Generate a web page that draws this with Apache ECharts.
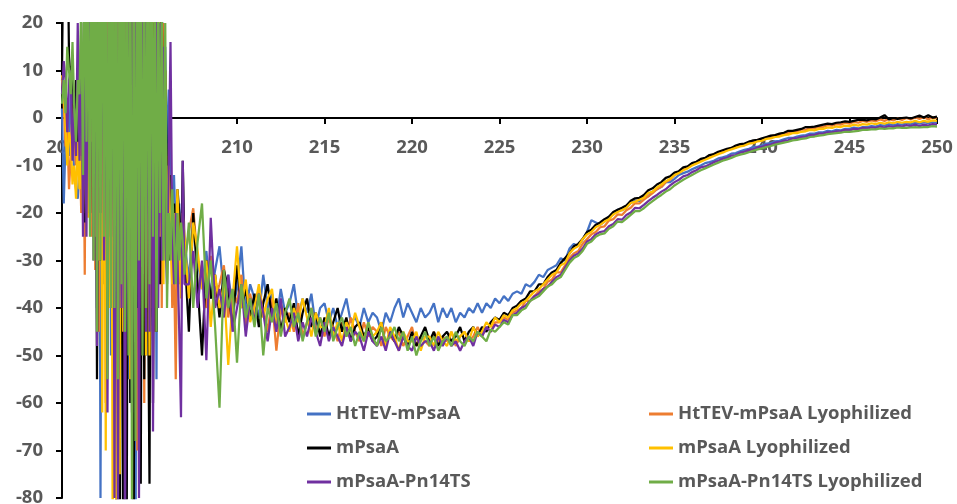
<!DOCTYPE html>
<html><head><meta charset="utf-8">
<script src="https://cdn.jsdelivr.net/npm/echarts@6/dist/echarts.min.js"></script>
<style>html,body{margin:0;padding:0;background:#fff}#c{width:957px;height:504px}</style>
</head><body><div id="c"></div>
<script>
// Wavelength grids (nm): dense part 200.0 → 207.0 step 0.1, main part 207.25 → 250 step 0.25
const denseStart = 200, denseStep = 0.1;
const mainStart = 207.25, mainStep = 0.25;
const xTicks = [200,205,210,215,220,225,230,235,240,245,250];
const yTicks = [-80,-70,-60,-50,-40,-30,-20,-10,0,10,20];
const seriesNames = ["HtTEV-mPsaA","HtTEV-mPsaA Lyophilized","mPsaA","mPsaA Lyophilized","mPsaA-Pn14TS","mPsaA-Pn14TS Lyophilized"];
const seriesColors = ["#4472C4","#ED7D31","#000000","#FFC000","#7030A0","#70AD47"];

// ---- 200.0 – 207.0 nm (0.1 nm) ----
const htTEVDense = [
2,-18,-5,4,-8,6,-3,-12,-15,-17,
-10,-4,5,12,25,40,-20,35,-10,50,
-40,45,-80,30,-35,60,-25,40,-50,55,
-30,45,-60,35,-45,50,-20,65,-55,40,
-35,55,-95,30,-40,60,-30,45,-50,35,
-25,50,-45,30,-55,40,-20,35,-30,15,
-10,6,-15,-20,-12,-25,-30,-18,-28,-22,
-26];
const htTEVLyoDense = [
8,3,-6,-2,-15,-8,3,-5,-10,10,
-5,-20,15,-33,30,-10,45,-25,60,-32,
40,-45,55,-30,35,-60,45,-20,50,-40,
30,-65,50,-35,60,-20,40,-45,55,-30,
45,-50,35,-70,50,-25,40,-60,30,-35,
55,-25,40,-45,30,-35,25,-40,20,-15,
-8,-25,-15,-40,-30,-55,-20,-35,-28,-22,
-30];
const mPsaADense = [
10,45,45,45,13,8,12,-5,8,-8,
5,-3,9,-22,-8,50,-20,45,20,55,
-55,50,-30,60,-20,45,-40,55,-25,40,
60,-90,35,-95,45,-100,30,-85,55,-60,
40,-85,55,-40,45,-77,35,-55,50,-30,
-77,35,-60,20,-45,30,-35,25,-20,10,
-12,-30,-12,-22,-18,-25,-15,-20,-35,-9,
-28];
const mPsaALyoDense = [
9,5,-2,-10,-3,-5,-14,-10,-17,-5,
-15,-8,-20,5,30,-21,40,-5,45,-25,
45,-30,40,-62,35,-70,50,-40,55,-95,
55,-90,40,-75,60,-45,50,-30,40,-55,
-45,50,-30,60,-40,45,-25,55,-50,30,
-50,30,-40,15,-30,40,-25,20,-35,10,
-30,-10,-25,-35,-20,-25,-15,-28,-38,-20,
-20];
const pn14TSDense = [
5,12,8,-3,8,10,-9,2,-8,20,
-9,20,-25,10,-25,45,-20,55,-30,40,
-48,55,-20,45,-30,50,-62,40,-25,60,
-80,45,-85,35,-40,50,-95,40,-30,45,
-62,50,-35,45,-80,40,-30,55,-45,35,
-45,40,-66,9,30,-40,20,-30,15,-25,
-35,-10,16,-25,-35,-20,-30,-45,-63,-9,
-35];
const pn14TSLyoDense = [
3,8,1,15,10,5,16,2,-5,8,
5,25,-12,40,-5,30,-25,50,-30,60,
-45,50,-30,60,-25,45,-55,50,-40,55,
-40,45,-55,50,-35,60,-45,40,-50,55,
-85,40,-68,55,-30,45,-50,35,-40,50,
-35,45,-25,35,-45,30,-20,25,-30,20,
-40,-20,-30,-15,-25,-35,-20,-30,-22,-26,
-33];

// ---- 207.25 – 250 nm (0.25 nm) ----
const htTEV = [
-34,-22,-30, -36,-28,-38,-32, -27,-37,-33,-40, -36,-27,-41,-35,
-38,-42,-33,-40, -37,-43,-36,-41, -39,-35,-42,-38, -41,-37,-44,-40, -39,-43,-40,-44,
-41,-38,-43,-42, -44,-40,-43,-41, -42,-45,-41,-43, -40,-38,-42,-39, -41,-43,-40,-42,
-41,-39,-43,-40, -42,-40,-43,-41, -42,-40,-41,-39, -41,-39,-40,-38, -39,-37.5,-38.5,-37,
-36.5,-37,-35,-35.5, -34.5,-33,-33.5,-32, -31.5,-31,-29.5,-30, -27.5,-26.5,-27,-25.5,
-24,-21.5,-22,-22.5, -21.8,-20.8,-20.3,-19.3, -19.4,-18.9,-17.9,-17.4, -17.5,-16.5,-16.5,-15.5,
-15,-14.5,-13.5,-13.5, -12.8,-12,-11.6,-11.3, -10.8,-10.4,-10,-9.5, -9.3,-9,-8.5,-8.3,
-8,-7.5,-7.4,-7, -6.7,-6.5,-6.1,-6, -5.8,-5.4,-5.3,-4.9, -4.8,-4.5,-4.2,-4.2,
-3.9,-3.7,-3.6,-3.3, -3.3,-3,-3,-2.7, -2.8,-2.5,-2.6,-2.3, -2.3,-2,-2.2,-1.9,
-1.9,-1.7,-1.8,-1.5, -1.6,-1.3,-1.5,-1.3, -1.4,-1.1,-1.3,-1, -1.2,-0.9,-1.1,-0.9, -1
];
const htTEVLyo = [
-24,-19,-30, -33,-40,-29,-38, -35,-31,-42,-36, -39,-33,-44,-37,
-42,-36,-40,-45, -38,-49,-40,-43, -41,-45,-39,-46, -43,-40,-45,-42, -46,-42,-44,-47,
-43,-46,-42,-45, -47,-43,-46,-44, -45,-48,-44,-46, -47,-45,-48,-46, -44,-48,-46,-47,
-48,-45,-47,-46, -47,-45,-48,-46, -45,-47,-46,-44, -46,-44,-45,-43, -43,-42,-42.5,-41,
-40.5,-40,-38.5,-38.5, -37.5,-36.5,-36,-34.5, -34,-32.5,-32.5,-31, -29.5,-28.5,-28,-26.5,
-25.5,-24.5,-24,-23, -22.8,-21.6,-21.3,-20.3, -20.4,-19.4,-18.9,-17.9, -18,-17.2,-16.5,-15.8,
-15,-14.5,-13.5,-13, -12,-11.5,-10.8,-10.5, -9.8,-9.5,-8.8,-8.6, -8.2,-7.6,-7.5,-7,
-6.8,-6.3,-6.2,-5.7, -5.6,-5.1,-5,-4.6, -4.6,-4.1,-4,-3.6, -3.6,-3.2,-3.2,-2.8,
-2.8,-2.4,-2.5,-2.1, -2.2,-1.8,-1.9,-1.5, -1.6,-1.3,-1.4,-1, -1.2,-0.8,-1,-0.6,
-0.8,-0.5,-0.7,-0.3, -0.6,-0.2,-0.5,-0.1, -0.4,0,-0.3,0.1, -0.2,0.2,-0.3,0.2, 0
];
const mPsaA = [
-45,-20,-35, -50,-30,-38,-33, -42,-32,-36,-44, -31,-40,-36,-42,
-37,-44,-39,-35, -42,-38,-45,-40, -43,-39,-46,-41, -38,-44,-41,-46, -42,-46,-43,-40,
-45,-42,-47,-44, -43,-46,-44,-47, -46,-43,-48,-45, -47,-44,-46,-48, -45,-48,-46,-44,
-47,-45,-48,-46, -45,-47,-46,-44, -47,-45,-44,-46, -44,-45,-43,-42, -42.5,-41,-41.5,-40,
-39.5,-38.5,-38,-36.5, -36.5,-35,-35,-33.5, -32.5,-32,-30.5,-29.5, -28.5,-27,-26.5,-25.5,
-24,-23.5,-22.5,-22, -21.3,-20.8,-19.8,-19.3, -18.9,-18.4,-17.4,-16.9, -16.8,-16.2,-15.2,-14.8,
-14,-13.5,-12.6,-12.3, -11.5,-11.2,-10.4,-10.2, -9.5,-9.2,-8.6,-8.4, -7.8,-7.6,-7.1,-6.8,
-6.5,-6.3,-5.8,-5.5, -5.4,-5,-4.7,-4.6, -4.3,-4,-3.7,-3.6, -3.3,-3.1,-2.7,-2.7,
-2.5,-2.3,-1.9,-1.9, -1.8,-1.6,-1.4,-1.2, -1.3,-1,-0.9,-0.7, -0.8,-0.6,-0.4,-0.4,
-0.5,-0.2,-0.3,0.1, 0.6,-0.3,0,-0.2, 0,0.1,-0.1,0.2, 0.5,0.1,0.6,0.1, 0.3
];
const mPsaALyo = [
-38,-22,-28, -36,-30,-44,-33, -40,-35,-52,-38, -27,-40,-34,-43,
-40,-35,-42,-38, -36,-44,-39,-42, -45,-40,-43,-38, -42,-46,-41,-44, -44,-40,-46,-43,
-47,-43,-45,-41, -44,-47,-43,-46, -45,-43,-48,-44, -46,-49,-45,-47, -47,-45,-49,-46,
-46,-48,-45,-47, -48,-45,-47,-46, -45,-47,-44,-46, -45,-43,-44,-42, -43,-41.5,-42,-40.5,
-40,-39,-38.5,-37.5, -36.5,-36,-35,-34, -33,-32.5,-31,-30.5, -28.5,-27.5,-27,-25.5,
-24.5,-24,-23,-22.5, -21.8,-21.3,-20.3,-19.8, -19.4,-18.9,-17.9,-17.6, -17.2,-16.8,-15.8,-15.5,
-14.6,-14,-13.3,-12.8, -12,-11.6,-11,-10.6, -10,-9.6,-9.2,-8.8, -8.4,-8,-7.6,-7.3,
-6.9,-6.6,-6.3,-6, -5.8,-5.4,-5.3,-4.9, -4.8,-4.4,-4.3,-4, -3.9,-3.6,-3.5,-3.2,
-3.2,-2.9,-2.8,-2.5, -2.6,-2.3,-2.3,-2, -2.1,-1.8,-1.9,-1.6, -1.7,-1.4,-1.6,-1.3,
-1.4,-1.1,-1.3,-1, -1.2,-0.9,-1.1,-0.8, -1,-0.8,-0.9,-0.6, -0.9,-0.6,-0.8,-0.5, -0.6
];
const pn14TS = [
-35,-28,-40, -30,-51,-21,-40, -36,-42,-33,-45, -40,-35,-46,-38,
-43,-37,-41,-47, -40,-45,-38,-46, -44,-41,-47,-43, -46,-42,-45,-48, -43,-47,-44,-46,
-48,-44,-47,-45, -46,-49,-45,-47, -48,-46,-49,-45, -47,-49,-46,-48, -49,-46,-48,-47,
-47,-49,-46,-48, -46,-48,-47,-49, -47,-46,-48,-45, -46,-44,-45,-43.5, -44,-42.5,-43,-41.5,
-41,-40,-39.5,-38.5, -37.5,-37,-36,-35.5, -34.5,-33.5,-33,-31.5, -30,-29,-28.5,-27.5,
-26,-25.5,-24.5,-24, -23.8,-22.8,-22.3,-21.3, -21.4,-20.4,-19.9,-18.9, -19,-18.3,-17.5,-16.8,
-16.2,-15.5,-15,-14.2, -13.5,-13,-12.3,-12, -11.4,-11,-10.4,-10.2, -9.8,-9.3,-9,-8.6,
-8.4,-7.9,-7.8,-7.3, -7.1,-6.7,-6.6,-6.2, -6.1,-5.7,-5.6,-5.2, -5.1,-4.8,-4.7,-4.3,
-4.3,-4,-3.9,-3.6, -3.6,-3.3,-3.3,-3, -3,-2.8,-2.8,-2.5, -2.6,-2.3,-2.4,-2.1,
-2.2,-2,-2.1,-1.8, -2,-1.7,-1.9,-1.6, -1.8,-1.5,-1.7,-1.4, -1.7,-1.4,-1.6,-1.3, -1.4
];
const pn14TSLyo = [
-22,-40,-26, -18,-38,-30,-44, -61,-32,-40,-36, -51.5,-35,-42,-38,
-44,-37,-50,-40, -43,-39,-46,-41, -38,-44,-41,-47, -43,-40,-46,-42, -45,-41,-47,-44,
-42,-46,-44,-48, -45,-47,-43,-46, -48,-44,-47,-46, -44,-47,-45,-49, -46,-50,-47,-45,
-48,-46,-49,-47, -46,-48,-45,-47, -48,-46,-47,-45, -46,-47,-44.5,-45, -44,-43,-43.5,-41.5,
-41.5,-40.5,-40,-38.5, -38,-37.5,-36.5,-35.5, -35,-34,-33.5,-32, -30.5,-29.5,-29,-28,
-26.5,-26,-25,-24.5, -24.3,-23.3,-22.8,-21.8, -21.9,-21.2,-20.4,-19.6, -19.6,-19,-18.2,-17.5,
-16.8,-16.2,-15.5,-15, -14.2,-13.6,-13,-12.5, -12,-11.5,-11,-10.6, -10.2,-9.8,-9.4,-9,
-8.7,-8.4,-8,-7.7, -7.5,-7.2,-6.9,-6.6, -6.4,-6.1,-5.9,-5.6, -5.4,-5.2,-5,-4.7,
-4.6,-4.4,-4.3,-4, -3.9,-3.7,-3.6,-3.4, -3.3,-3.2,-3.1,-2.9, -2.9,-2.8,-2.7,-2.5,
-2.5,-2.4,-2.4,-2.2, -2.3,-2.2,-2.2,-2, -2.1,-2.1,-2,-1.9, -2,-1.9,-1.9,-1.7, -1.8
];
const denseValues = [htTEVDense, htTEVLyoDense, mPsaADense, mPsaALyoDense, pn14TSDense, pn14TSLyoDense];
const mainValues = [htTEV, htTEVLyo, mPsaA, mPsaALyo, pn14TS, pn14TSLyo];

const FONT = '"Open Sans", "Liberation Sans", sans-serif';
const FS = 18.5;
const labelFont = {fontFamily:FONT, fontWeight:'bold', color:'#595959', fontSize:FS};

const GRID_TOP = 23, GRID_BOTTOM = 6, H = 504;
const plotH = H - GRID_TOP - GRID_BOTTOM;
// x axis drawn across y = 0 (pixel distance from the bottom edge of the grid)
const zeroOffset = plotH * (0 - yTicks[0]) / (yTicks[yTicks.length-1] - yTicks[0]);

const r2 = v => Math.round(v*100)/100;
const series = seriesNames.map((name, k) => {
  const pts = denseValues[k].map((v,i) => [r2(denseStart + i*denseStep), v])
    .concat(mainValues[k].map((v,j) => [r2(mainStart + j*mainStep), v]));
  return {
    name, type:'line', showSymbol:false, symbol:'none', clip:true,
    color: seriesColors[k], lineStyle:{width:2.25, color: seriesColors[k]},
    data: pts, animation:false
  };
});

const legendText = {fontFamily:FONT, fontWeight:'bold', color:'#595959', fontSize:FS, lineHeight:20};
const chart = echarts.init(document.getElementById('c'), null, {renderer:'canvas'});
chart.setOption({
  animation:false,
  backgroundColor:'#fff',
  grid:{left:62, right:20, top:GRID_TOP, bottom:GRID_BOTTOM, containLabel:false, outerBoundsMode:'none'},
  xAxis:{type:'value', position:'bottom', offset:-zeroOffset, min:xTicks[0], max:xTicks[xTicks.length-1], interval:5,
    axisLine:{onZero:false, lineStyle:{color:'#000', width:2}},
    axisTick:{show:true, length:6, lineStyle:{color:'#000', width:2}},
    axisLabel:Object.assign({margin:20, showMinLabel:true, showMaxLabel:true}, labelFont),
    splitLine:{show:false}},
  yAxis:{type:'value', min:yTicks[0], max:yTicks[yTicks.length-1], interval:10,
    axisLine:{show:true, onZero:false, lineStyle:{color:'#000', width:2}},
    axisTick:{show:true, length:6, lineStyle:{color:'#000', width:2}},
    axisLabel:Object.assign({margin:19}, labelFont),
    splitLine:{show:false}},
  legend:[
    {data:[seriesNames[0],seriesNames[2],seriesNames[4]], orient:'vertical', left:302, top:399,
     itemWidth:24, itemHeight:3, icon:'rect', itemGap:14, textStyle:legendText},
    {data:[seriesNames[1],seriesNames[3],seriesNames[5]], orient:'vertical', left:644, top:399,
     itemWidth:24, itemHeight:3, icon:'rect', itemGap:14, textStyle:legendText}
  ],
  series: series
});
</script></body></html>
